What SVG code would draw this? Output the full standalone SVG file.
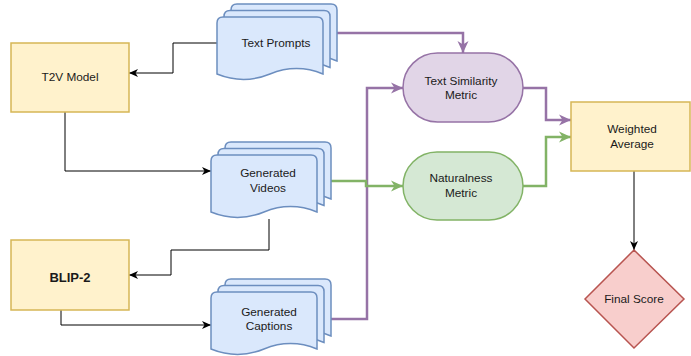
<svg xmlns="http://www.w3.org/2000/svg" width="691" height="356" viewBox="0 0 691 356">
<style>
text{font-family:"Liberation Sans",Arial,Helvetica,sans-serif;font-size:11.8px;fill:#1a1a1a;text-anchor:middle}
.y{fill:#fff2cc;stroke:#d6b656;stroke-width:1.5}
.doc{fill:#dae8fc;stroke:#6c8ebf;stroke-width:1.5}
.pu{fill:#e1d5e7;stroke:#9673a6;stroke-width:1.5}
.gr{fill:#d5e8d4;stroke:#82b366;stroke-width:1.5}
.rd{fill:#f8cecc;stroke:#b85450;stroke-width:1.5}
.k{fill:none;stroke:#000;stroke-width:1}
.pc{fill:none;stroke:#9673a6;stroke-width:2.5}
.gc{fill:none;stroke:#82b366;stroke-width:2.5}
</style>
<defs>
<marker id="ak" markerUnits="userSpaceOnUse" markerWidth="10" markerHeight="10" refX="9" refY="4.5" orient="auto"><path d="M0,0.5 L9,4.5 L0,8.5 L2.5,4.5 Z" fill="#000"/></marker>
<marker id="ap" markerUnits="userSpaceOnUse" markerWidth="14" markerHeight="14" refX="12" refY="6" orient="auto"><path d="M0,0.5 L12,6 L0,11.5 L3.5,6 Z" fill="#9673a6"/></marker>
<marker id="ag" markerUnits="userSpaceOnUse" markerWidth="14" markerHeight="14" refX="12" refY="6" orient="auto"><path d="M0,0.5 L12,6 L0,11.5 L3.5,6 Z" fill="#82b366"/></marker>
<path id="pg" d="M0,6 Q0,0 6,0 L100,0 Q106,0 106,6 L106,57 Q79.5,46.2 53,57 Q26.5,67.8 0,57 Z"/>
</defs>

<g id="connectors">
<path class="k" d="M217,43 H173 V73 H129" marker-end="url(#ak)"/>
<path class="k" d="M65,112 V171 H211" marker-end="url(#ak)"/>
<path class="k" d="M269,219 V250 H171 V275 H129" marker-end="url(#ak)"/>
<path class="k" d="M61,310 V325 H211" marker-end="url(#ak)"/>
<path class="pc" d="M337,33 H463 V53" marker-end="url(#ap)"/>
<path class="pc" d="M331,319 H367 V88 H403" marker-end="url(#ap)"/>
<path class="gc" d="M331,181 H366 V186 H403" marker-end="url(#ag)"/>
<path class="pc" d="M523,88 H546 V120 H571" marker-end="url(#ap)"/>
<path class="gc" d="M523,186 H546 V137 H571" marker-end="url(#ag)"/>
<path class="k" d="M634,171 V250" marker-end="url(#ak)"/>
</g>

<g id="t2v">
<rect class="y" x="11" y="43" width="118" height="69"/>
<text x="70" y="81">T2V Model</text>
</g>
<g id="blip2">
<rect class="y" x="11" y="240" width="118" height="70"/>
<text x="70" y="282" style="font-weight:bold;font-size:13px">BLIP-2</text>
</g>

<g id="textprompts">
<use href="#pg" class="doc" x="231" y="4"/>
<use href="#pg" class="doc" x="224" y="10.5"/>
<use href="#pg" class="doc" x="217" y="17"/>
<text x="276" y="47">Text Prompts</text>
</g>
<g id="genvideos">
<use href="#pg" class="doc" x="225" y="142"/>
<use href="#pg" class="doc" x="218" y="148.5"/>
<use href="#pg" class="doc" x="211" y="155"/>
<text x="268" y="177">Generated</text>
<text x="268" y="192">Videos</text>
</g>
<g id="gencaptions">
<use href="#pg" class="doc" x="225" y="279"/>
<use href="#pg" class="doc" x="218" y="285.5"/>
<use href="#pg" class="doc" x="211" y="292"/>
<text x="269" y="316">Generated</text>
<text x="269" y="330">Captions</text>
</g>

<g id="textsim">
<rect class="pu" x="403" y="53" width="120" height="69" rx="34.5"/>
<text x="461" y="85">Text Similarity</text>
<text x="461" y="99">Metric</text>
</g>
<g id="naturalness">
<rect class="gr" x="403" y="152" width="120" height="68" rx="34"/>
<text x="461" y="182">Naturalness</text>
<text x="461" y="197">Metric</text>
</g>
<g id="weighted">
<rect class="y" x="571" y="102" width="119" height="69"/>
<text x="632" y="133">Weighted</text>
<text x="632" y="148">Average</text>
</g>
<g id="finalscore">
<polygon class="rd" points="634,250 684,299 634,348 585,299"/>
<text x="634" y="303">Final Score</text>
</g>
</svg>
